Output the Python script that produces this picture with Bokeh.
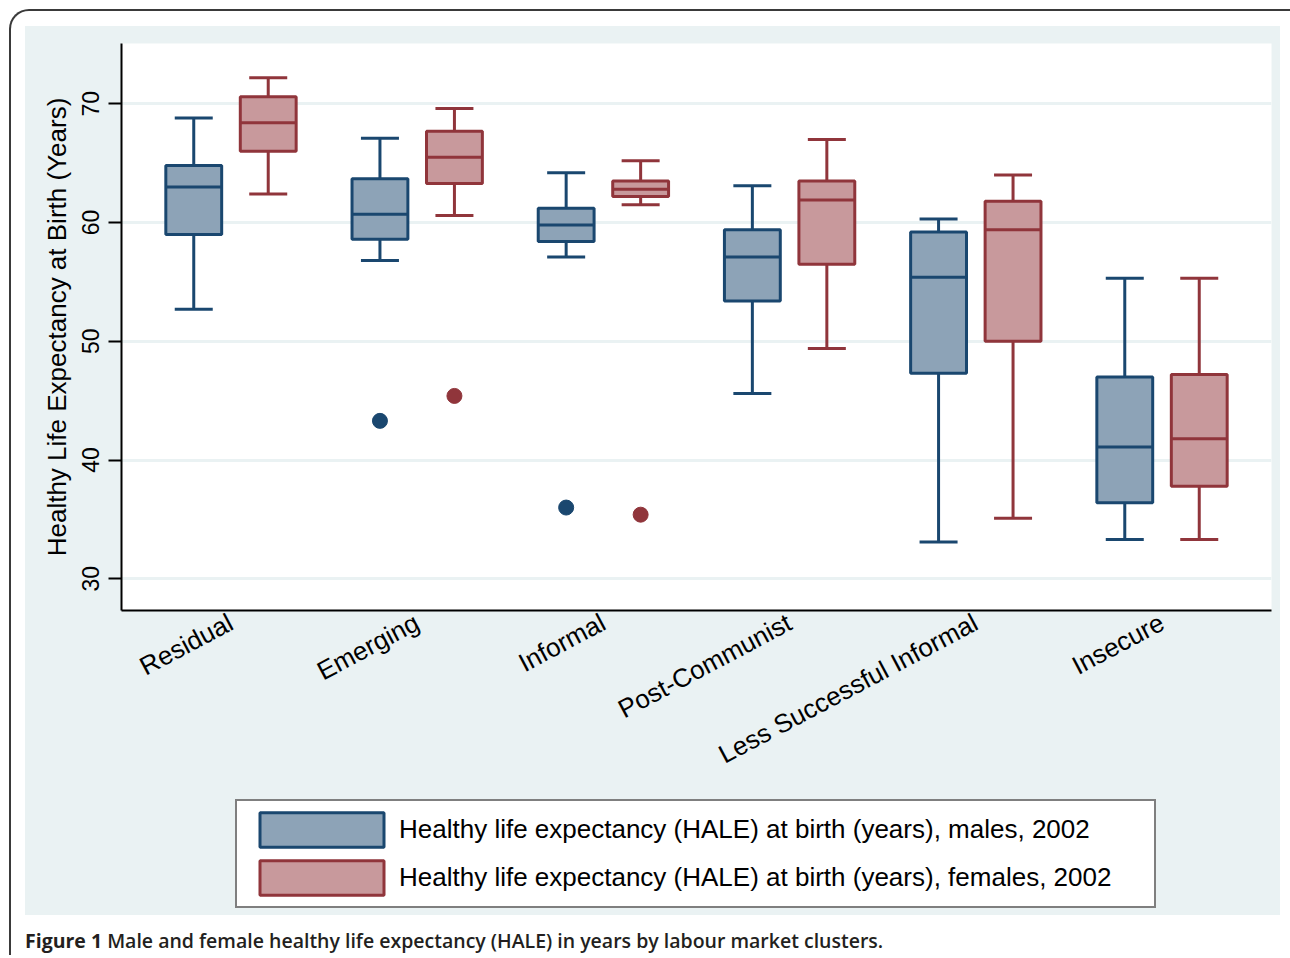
import math

from bokeh.embed import file_html
from bokeh.layouts import column
from bokeh.models import (ColumnDataSource, Div, FixedTicker, Legend, LegendItem,
                          Range1d, TeeHead, Whisker)
from bokeh.plotting import figure
from bokeh.resources import INLINE

# Labour market clusters (x categories)
clusters = ["Residual", "Emerging", "Informal", "Post-Communist",
            "Less Successful Informal", "Insecure"]

# HALE at birth (years), males, 2002: whisker ends, quartiles and median
male_low = [52.7, 56.8, 57.1, 45.6, 33.1, 33.3]
male_q1 = [59.0, 58.6, 58.4, 53.4, 47.3, 36.4]
male_median = [63.0, 60.7, 59.8, 57.1, 55.4, 41.1]
male_q3 = [64.8, 63.7, 61.2, 59.4, 59.2, 47.0]
male_high = [68.8, 67.1, 64.2, 63.1, 60.3, 55.3]

# HALE at birth (years), females, 2002
female_low = [62.4, 60.6, 61.5, 49.4, 35.1, 33.3]
female_q1 = [66.0, 63.3, 62.2, 56.5, 50.0, 37.8]
female_median = [68.4, 65.5, 62.8, 61.9, 59.4, 41.8]
female_q3 = [70.6, 67.7, 63.5, 63.5, 61.8, 47.2]
female_high = [72.2, 69.6, 65.2, 67.0, 64.0, 55.3]

# Outside values
male_outlier_cluster = ["Emerging", "Informal"]
male_outlier_value = [43.3, 36.0]
female_outlier_cluster = ["Emerging", "Informal"]
female_outlier_value = [45.4, 35.4]

y_ticks = [30, 40, 50, 60, 70]

male_label = "Healthy life expectancy (HALE) at birth (years), males, 2002"
female_label = "Healthy life expectancy (HALE) at birth (years), females, 2002"
caption_html = ("<b style='font-weight:700'>Figure 1</b> Male and female healthy life "
                "expectancy (HALE) in years by labour market clusters.")

# Stata s2color-like palette
NAVY = "#1A476F"
NAVY_FILL = "#8DA3B7"
MAROON = "#90353B"
MAROON_FILL = "#C8999C"
PANEL = "#EAF2F3"
FONT = "Liberation Sans"

DODGE = 0.2
BOX_W = 0.3


def series_source(offset, low, q1, med, q3, high):
    x = [i + offset for i in range(len(clusters))]
    return ColumnDataSource(dict(
        x=x, x0=[v - BOX_W / 2 for v in x], x1=[v + BOX_W / 2 for v in x],
        low=low, q1=q1, med=med, q3=q3, high=high))


src_m = series_source(-DODGE, male_low, male_q1, male_median, male_q3, male_high)
src_f = series_source(DODGE, female_low, female_q1, female_median, female_q3, female_high)

# ---- main box plot -------------------------------------------------------
p = figure(width=1255, height=769, title=None,
           x_range=Range1d(-0.588, 5.588), y_range=Range1d(27.33, 75.08),
           output_backend="svg", toolbar_location=None,
           min_border_left=96, min_border_right=9,
           min_border_top=17, min_border_bottom=185,
           background_fill_color="white", border_fill_color=PANEL,
           outline_line_color=None)

# grid
p.xgrid.visible = False
p.ygrid.ticker = FixedTicker(ticks=y_ticks)
p.ygrid.grid_line_color = PANEL
p.ygrid.grid_line_width = 3

# y axis
p.yaxis.ticker = FixedTicker(ticks=y_ticks)
p.yaxis.axis_label = "Healthy Life Expectancy at Birth (Years)"
p.yaxis.axis_label_text_font = FONT
p.yaxis.axis_label_text_font_size = "26px"
p.yaxis.axis_label_text_font_style = "normal"
p.yaxis.axis_label_text_color = "black"
p.yaxis.axis_label_standoff = 8
p.yaxis.major_label_orientation = "vertical"
p.yaxis.major_label_text_font = FONT
p.yaxis.major_label_text_font_size = "23px"
p.yaxis.major_label_text_color = "black"
p.yaxis.major_label_standoff = 9
p.yaxis.major_tick_out = 13
p.yaxis.major_tick_in = 0
p.yaxis.minor_tick_out = 0
p.yaxis.minor_tick_in = 0
p.yaxis.axis_line_width = 2
p.yaxis.major_tick_line_width = 2
p.yaxis.axis_line_color = "black"
p.yaxis.major_tick_line_color = "black"

# x axis with cluster names
p.xaxis.ticker = FixedTicker(ticks=list(range(len(clusters))))
p.xaxis.major_label_overrides = {i: name for i, name in enumerate(clusters)}
p.xaxis.major_label_orientation = math.radians(28)
p.xaxis.major_label_text_font = FONT
p.xaxis.major_label_text_font_size = "26px"
p.xaxis.major_label_text_color = "black"
p.xaxis.major_label_standoff = 10
p.xaxis.major_tick_out = 0
p.xaxis.major_tick_in = 0
p.xaxis.minor_tick_out = 0
p.xaxis.minor_tick_in = 0
p.xaxis.axis_line_width = 2
p.xaxis.axis_line_color = "black"


def draw_boxes(src, line, fill):
    head = dict(size=38, line_color=line, line_width=3)
    p.add_layout(Whisker(source=src, base="x", lower="low", upper="high",
                         line_color=line, line_width=3, level="underlay",
                         lower_head=TeeHead(**head), upper_head=TeeHead(**head)))
    p.vbar(x="x", width=BOX_W, bottom="q1", top="q3", source=src,
           fill_color=fill, line_color=line, line_width=3)
    p.segment(x0="x0", x1="x1", y0="med", y1="med", source=src,
              line_color=line, line_width=3)


draw_boxes(src_m, NAVY, NAVY_FILL)
draw_boxes(src_f, MAROON, MAROON_FILL)

p.scatter(x=[clusters.index(c) - DODGE for c in male_outlier_cluster],
          y=male_outlier_value, size=15, color=NAVY)
p.scatter(x=[clusters.index(c) + DODGE for c in female_outlier_cluster],
          y=female_outlier_value, size=15, color=MAROON)

# ---- legend strip under the plot ----------------------------------------
# Swatch-only renderers: a single undefined row gives the legend something
# to style its swatch from without drawing any box in this strip.
key = figure(width=1255, height=120, title=None,
             x_axis_type=None, y_axis_type=None,
             x_range=Range1d(0, 1), y_range=Range1d(0, 1),
             output_backend="svg", toolbar_location=None,
             min_border=0, background_fill_color=PANEL,
             border_fill_color=PANEL, outline_line_color=None)
key.grid.visible = False
nan = float("nan")
key_m = key.vbar(x=[nan], width=BOX_W, bottom=[nan], top=[nan],
                 fill_color=NAVY_FILL, line_color=NAVY, line_width=3)
key_f = key.vbar(x=[nan], width=BOX_W, bottom=[nan], top=[nan],
                 fill_color=MAROON_FILL, line_color=MAROON, line_width=3)

legend = Legend(items=[LegendItem(label=male_label, renderers=[key_m]),
                       LegendItem(label=female_label, renderers=[key_f])],
                location=(114, 7), orientation="vertical",
                label_text_font=FONT, label_text_font_size="26px",
                label_text_color="black",
                glyph_width=155, glyph_height=43, label_standoff=0,
                spacing=5, padding=7, margin=0, label_width=748,
                background_fill_color="white", background_fill_alpha=1.0,
                border_line_color="black", border_line_width=2)
key.add_layout(legend, "center")

chart = column(p, key, spacing=0, styles={"background": PANEL})

caption = Div(text=caption_html, width=1255, margin=(12, 0, 0, 0),
              styles={"font-family": "Open Sans", "font-size": "19.5px",
                      "font-weight": "600", "color": "#231F20"})

page = column(chart, caption, margin=(9, 0, 0, 9), spacing=0,
              styles={"border-top": "2px solid #3A3A3A",
                      "border-left": "2px solid #3A3A3A",
                      "border-top-left-radius": "20px",
                      "padding": "15px 30px 0 14px",
                      "background": "white"})

open("out.html", "w").write(file_html(page, INLINE))
